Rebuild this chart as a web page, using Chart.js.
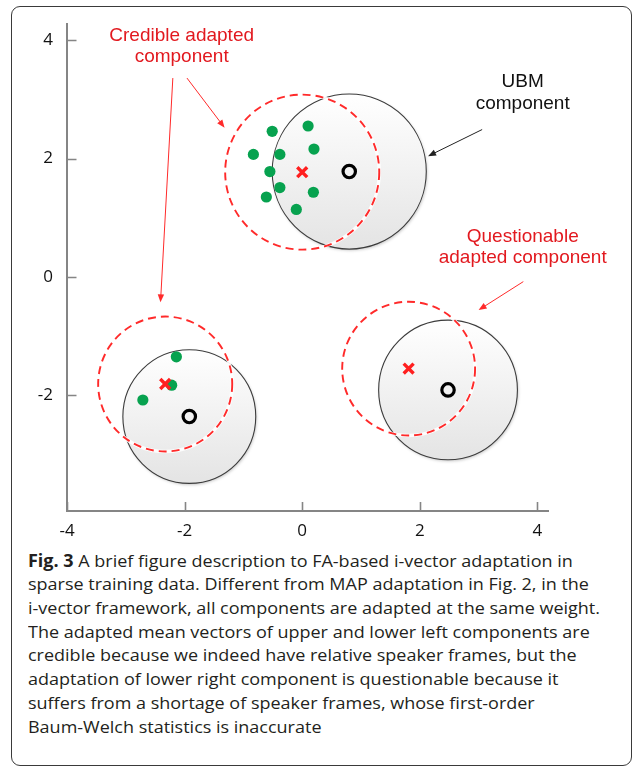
<!DOCTYPE html>
<html>
<head>
<meta charset="utf-8">
<title>FA-based i-vector adaptation</title>
<script src="https://cdn.jsdelivr.net/npm/chart.js@4.4.1/dist/chart.umd.min.js"></script>
<style>
  html, body { margin: 0; padding: 0; background: #fff; width: 633px; height: 769px; overflow: hidden; }
  #frame { position: absolute; left: 11px; top: 6px; width: 621px; height: 760px; border: 1.3px solid #3a3a3a;
           border-radius: 9px; box-sizing: border-box; }
  #plot { position: absolute; left: 0; top: 0; width: 633px; height: 548px; }
  #caption { position: absolute; left: 28px; top: 548.6px; font-family: 'Open Sans', sans-serif; font-size: 17px;
             line-height: 23.7px; color: #231f20; transform-origin: 0 0; white-space: nowrap; }
  #caption b { font-weight: 700; }
</style>
</head>
<body>
<div id="frame"></div>
<div id="plot"><canvas id="c"></canvas></div>
<div id="caption">
  <div><b>Fig. 3</b> A brief figure description to FA-based i-vector adaptation in</div>
  <div>sparse training data. Different from MAP adaptation in Fig. 2, in the</div>
  <div>i-vector framework, all components are adapted at the same weight.</div>
  <div>The adapted mean vectors of upper and lower left components are</div>
  <div>credible because we indeed have relative speaker frames, but the</div>
  <div>adaptation of lower right component is questionable because it</div>
  <div>suffers from a shortage of speaker frames, whose first-order</div>
  <div>Baum-Welch statistics is inaccurate</div>
</div>
<script>
// Axis ticks
const xTicks = [-4, -2, 0, 2, 4];
const yTicks = [-2, 0, 2, 4];

// UBM components (upper, lower left, lower right): means and radii
const ubmX = [0.80, -1.92, 2.48];
const ubmY = [1.78, -2.36, -1.91];
const ubmR = [1.31, 1.13, 1.18];

// Adapted components: means and radii
const adaptX = [0.00, -2.33, 1.81];
const adaptY = [1.77, -1.81, -1.55];
const adaptR = [1.31, 1.14, 1.13];

// Speaker frames
const frameX = [-0.51, 0.10, -0.83, -0.38, 0.20, -0.55, -0.38, -0.61, 0.19, -0.10, -2.14, -2.22, -2.71];
const frameY = [2.46, 2.55, 2.07, 2.07, 2.16, 1.78, 1.51, 1.35, 1.43, 1.14, -1.35, -1.83, -2.08];

const RED_TEXT = '#e2191f';
const RED_LINE = '#ff2a2a';

// Callout texts, anchored in data coordinates
const notes = [
  { lines: ['Credible adapted', 'component'], x: -2.05, y: 3.90, color: RED_TEXT },
  { lines: ['UBM', 'component'], x: 3.75, y: 3.11, color: '#111111' },
  { lines: ['Questionable', 'adapted component'], x: 3.75, y: 0.50, color: RED_TEXT }
];

// Callout arrows, head at the "to" point
const arrows = [
  { from: [-1.96, 3.36], to: [-1.32, 2.52], color: RED_LINE },
  { from: [-2.20, 3.36], to: [-2.41, -0.43], color: RED_LINE },
  { from: [3.06, 2.49], to: [2.14, 2.04], color: '#222222' },
  { from: [3.76, -0.08], to: [3.00, -0.56], color: RED_LINE }
];

const toPoints = (xs, ys) => xs.map((v, i) => ({ x: v, y: ys[i] }));

function ellipsePath(ctx, xs, ys, cx, cy, r) {
  const px = xs.getPixelForValue(cx);
  const py = ys.getPixelForValue(cy);
  const rx = xs.getPixelForValue(cx + r) - px;
  const ry = py - ys.getPixelForValue(cy + r);
  ctx.beginPath();
  ctx.ellipse(px, py, rx, ry, 0, 0, Math.PI * 2);
  return { px, py, rx, ry };
}

const diagram = {
  id: 'diagram',
  beforeDatasetsDraw(chart) {
    const { ctx, scales: { x, y } } = chart;
    ctx.save();
    // UBM Gaussians: shaded discs
    ubmX.forEach((cx, i) => {
      ctx.save();
      const e = ellipsePath(ctx, x, y, cx, ubmY[i], ubmR[i]);
      const g = ctx.createLinearGradient(e.px, e.py - e.ry, e.px, e.py + e.ry);
      g.addColorStop(0, '#ffffff');
      g.addColorStop(1, '#e4e4e4');
      ctx.fillStyle = g;
      ctx.shadowColor = 'rgba(0,0,0,0.22)';
      ctx.shadowBlur = 3;
      ctx.shadowOffsetX = 1;
      ctx.shadowOffsetY = 1.5;
      ctx.fill();
      ctx.restore();
      ellipsePath(ctx, x, y, cx, ubmY[i], ubmR[i]);
      ctx.lineWidth = 1.1;
      ctx.strokeStyle = '#3c3c3c';
      ctx.stroke();
    });
    // Adapted Gaussians: dashed red outlines on a white halo
    adaptX.forEach((cx, i) => {
      ellipsePath(ctx, x, y, cx, adaptY[i], adaptR[i]);
      ctx.setLineDash([]);
      ctx.lineWidth = 3.4;
      ctx.strokeStyle = 'rgba(255,255,255,0.9)';
      ctx.stroke();
      ctx.setLineDash([8, 5]);
      ctx.lineWidth = 1.9;
      ctx.strokeStyle = RED_LINE;
      ctx.stroke();
    });
    ctx.restore();
  },
  afterDraw(chart) {
    const { ctx, chartArea: area, scales: { x, y } } = chart;
    ctx.save();
    // inward tick marks
    ctx.strokeStyle = '#858585';
    ctx.lineWidth = 1.6;
    ctx.beginPath();
    y.ticks.forEach(t => {
      const p = Math.round(y.getPixelForValue(t.value)) + 0.5;
      ctx.moveTo(area.left, p);
      ctx.lineTo(area.left + 9.5, p);
    });
    x.ticks.forEach(t => {
      const p = Math.round(x.getPixelForValue(t.value)) + 0.5;
      ctx.moveTo(p, area.bottom);
      ctx.lineTo(p, area.bottom - 9);
    });
    ctx.stroke();

    // arrows
    arrows.forEach(a => {
      const x0 = x.getPixelForValue(a.from[0]), y0 = y.getPixelForValue(a.from[1]);
      const x1 = x.getPixelForValue(a.to[0]), y1 = y.getPixelForValue(a.to[1]);
      const ang = Math.atan2(y1 - y0, x1 - x0);
      const len = 8, half = 3.2;
      ctx.strokeStyle = a.color;
      ctx.fillStyle = a.color;
      ctx.lineWidth = 1;
      ctx.beginPath();
      ctx.moveTo(x0, y0);
      ctx.lineTo(x1 - Math.cos(ang) * len * 0.8, y1 - Math.sin(ang) * len * 0.8);
      ctx.stroke();
      ctx.beginPath();
      ctx.moveTo(x1, y1);
      ctx.lineTo(x1 - Math.cos(ang) * len - Math.sin(ang) * half, y1 - Math.sin(ang) * len + Math.cos(ang) * half);
      ctx.lineTo(x1 - Math.cos(ang) * len + Math.sin(ang) * half, y1 - Math.sin(ang) * len - Math.cos(ang) * half);
      ctx.closePath();
      ctx.fill();
    });

    // callout texts
    ctx.font = '19px "Liberation Sans", Arial, sans-serif';
    ctx.textAlign = 'center';
    ctx.textBaseline = 'middle';
    const lh = 21.6;
    notes.forEach(n => {
      const cx = x.getPixelForValue(n.x);
      const cy = y.getPixelForValue(n.y);
      ctx.fillStyle = n.color;
      n.lines.forEach((s, k) => {
        ctx.fillText(s, cx, cy + (k - (n.lines.length - 1) / 2) * lh);
      });
    });
    ctx.restore();
  }
};

const tickFont = { family: "'Open Sans', sans-serif", size: 17 };

new Chart(document.getElementById('c'), {
  type: 'scatter',
  data: {
    datasets: [
      {
        label: 'UBM mean',
        data: toPoints(ubmX, ubmY),
        pointStyle: 'circle',
        pointRadius: 6.2,
        borderColor: '#000000',
        borderWidth: 3.2,
        backgroundColor: 'rgba(0,0,0,0)'
      },
      {
        label: 'Adapted mean',
        data: toPoints(adaptX, adaptY),
        pointStyle: 'crossRot',
        pointRadius: 7,
        borderColor: '#ff1f1f',
        borderWidth: 3.4
      },
      {
        label: 'Speaker frames',
        data: toPoints(frameX, frameY),
        pointStyle: 'circle',
        pointRadius: 5.6,
        backgroundColor: '#07a24f',
        borderWidth: 0
      }
    ]
  },
  options: {
    responsive: true,
    maintainAspectRatio: false,
    animation: false,
    events: [],
    layout: { padding: { left: 0, right: 85, top: 24, bottom: 0 } },
    plugins: { legend: { display: false }, tooltip: { enabled: false } },
    scales: {
      x: {
        type: 'linear',
        min: -4,
        max: 4.18,
        afterFit(s) { s.height = 37; },
        afterBuildTicks(s) { s.ticks = xTicks.map(v => ({ value: v })); },
        grid: { display: false, drawTicks: false },
        border: { display: true, color: '#858585', width: 2 },
        ticks: { padding: 9.5, color: '#111111', font: tickFont }
      },
      y: {
        type: 'linear',
        min: -3.956,
        max: 4.27,
        afterFit(s) { s.width = 67; },
        afterBuildTicks(s) { s.ticks = yTicks.map(v => ({ value: v })); },
        grid: { display: false, drawTicks: false },
        border: { display: true, color: '#858585', width: 2 },
        ticks: { padding: 14, color: '#111111', font: tickFont }
      }
    }
  },
  plugins: [diagram]
});

// condense the caption to its column width
const cap = document.getElementById('caption');
const capWidth = cap.getBoundingClientRect().width;
cap.style.transform = 'scaleX(' + (572 / capWidth) + ')';
</script>
</body>
</html>
